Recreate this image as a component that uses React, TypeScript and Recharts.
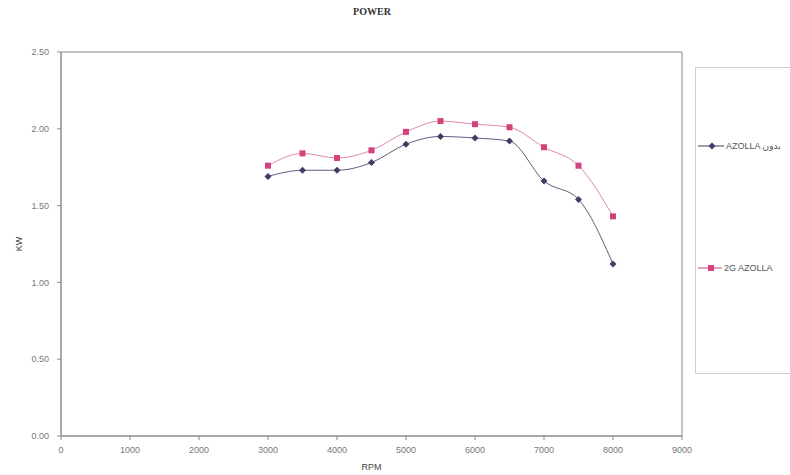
import { LineChart, Line, XAxis, YAxis, ReferenceArea, Label } from "recharts";

const rpm = [3000, 3500, 4000, 4500, 5000, 5500, 6000, 6500, 7000, 7500, 8000];
const withoutAzolla = [1.69, 1.73, 1.73, 1.78, 1.9, 1.95, 1.94, 1.92, 1.66, 1.54, 1.12];
const azolla2g = [1.76, 1.84, 1.81, 1.86, 1.98, 2.05, 2.03, 2.01, 1.88, 1.76, 1.43];
const xTicks = [0, 1000, 2000, 3000, 4000, 5000, 6000, 7000, 8000, 9000];
const yTicks = [0, 0.5, 1, 1.5, 2, 2.5];
const seriesNames = ["AZOLLA بدون", "2G AZOLLA"];

const data = rpm.map((r, i) => ({ rpm: r, a: withoutAzolla[i], b: azolla2g[i] }));

const BLUE = "#3d4064";
const PINK = "#d4417f";
const font = "'Liberation Sans', Arial, 'DejaVu Sans', sans-serif";

function Diamond(props: any) {
  const { cx, cy } = props;
  if (cx == null || cy == null) return null;
  return <path d={`M${cx},${cy - 3.5}L${cx + 3.5},${cy}L${cx},${cy + 3.5}L${cx - 3.5},${cy}Z`} fill={BLUE} />;
}

function Square(props: any) {
  const { cx, cy } = props;
  if (cx == null || cy == null) return null;
  return <rect x={cx - 3} y={cy - 3} width={6} height={6} fill={PINK} />;
}

function LegendBox() {
  return (
    <div
      style={{
        position: "absolute",
        left: 695,
        top: 67,
        width: 110,
        height: 305,
        border: "1px solid #cfcfcf",
        fontFamily: font,
        fontSize: 9,
        color: "#555",
      }}
    >
      <div style={{ position: "absolute", top: 73, left: 2, display: "flex", alignItems: "center" }}>
        <svg width={26} height={8}>
          <line x1={0} y1={4} x2={26} y2={4} stroke={BLUE} strokeWidth={1} />
          <path d="M14,0.5L17.5,4L14,7.5L10.5,4Z" fill={BLUE} />
        </svg>
        <span style={{ marginLeft: 2 }}>{seriesNames[0]}</span>
      </div>
      <div style={{ position: "absolute", top: 195, left: 2, display: "flex", alignItems: "center" }}>
        <svg width={24} height={8}>
          <line x1={0} y1={4} x2={24} y2={4} stroke={PINK} strokeWidth={1} />
          <rect x={10} y={1} width={6} height={6} fill={PINK} />
        </svg>
        <span style={{ marginLeft: 2 }}>{seriesNames[1]}</span>
      </div>
    </div>
  );
}

export default function App() {
  return (
    <div style={{ position: "absolute", left: 0, top: 0, width: 790, height: 475, background: "#fff", overflow: "hidden" }}>
      <div
        style={{
          position: "absolute",
          top: 6,
          left: 0,
          width: 744,
          textAlign: "center",
          fontFamily: "'Liberation Serif', 'Times New Roman', serif",
          fontWeight: "bold",
          fontSize: 10,
          color: "#333",
        }}
      >
        POWER
      </div>
      <LineChart width={790} height={475} data={data} margin={{ top: 52, right: 108, left: 16, bottom: 5 }}>
        <ReferenceArea x1={0} x2={9000} y1={0} y2={2.5} stroke="#8a8a8a" strokeWidth={1} fill="none" ifOverflow="visible" />
        <XAxis
          dataKey="rpm"
          type="number"
          domain={[0, 9000]}
          ticks={xTicks}
          height={34}
          stroke="#8a8a8a"
          tickSize={4}
          tick={{ fontSize: 9, fill: "#777", fontFamily: font, dy: 5 }}
        >
          <Label value="RPM" position="insideBottom" offset={0} style={{ fontSize: 9, fill: "#444", fontFamily: font }} />
        </XAxis>
        <YAxis
          type="number"
          domain={[0, 2.5]}
          ticks={yTicks}
          width={45}
          stroke="#8a8a8a"
          tickSize={4}
          tickFormatter={(v: number) => v.toFixed(2)}
          tick={{ fontSize: 9, fill: "#777", fontFamily: font, dx: -6 }}
        >
          <Label value="KW" angle={-90} position="insideLeft" offset={0} dx={3} style={{ fontSize: 9, fill: "#444", fontFamily: font, textAnchor: "middle" }} />
        </YAxis>
        <Line
          type="monotone"
          dataKey="a"
          name={seriesNames[0]}
          stroke="#5a5e80"
          strokeWidth={1}
          dot={<Diamond />}
          isAnimationActive={false}
        />
        <Line
          type="monotone"
          dataKey="b"
          name={seriesNames[1]}
          stroke="#dc8aa9"
          strokeWidth={1}
          dot={<Square />}
          isAnimationActive={false}
        />
      </LineChart>
      <LegendBox />
    </div>
  );
}
